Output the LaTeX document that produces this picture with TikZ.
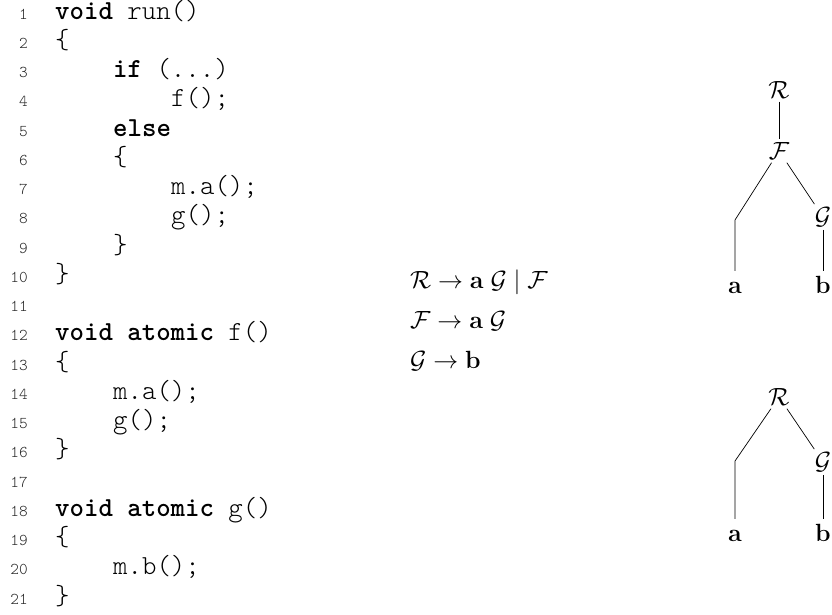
\documentclass[tikz,border=0pt]{standalone}
\tikzset{
  codeline/.style={anchor=mid west, inner sep=0pt, font=\fontsize{27.5}{30}\ttfamily\fontseries{l}\selectfont},
  lnum/.style={anchor=mid east, inner sep=0pt, text=black!85, font=\fontsize{16.5}{18}\ttfamily\fontseries{l}\selectfont},
  ruletxt/.style={anchor=base west, inner sep=0pt, font=\fontsize{30}{34}\selectfont},
  tn/.style={inner sep=3pt, font=\fontsize{28.5}{34}\selectfont},
  leaf/.style={inner sep=3pt, anchor=base, text height=19pt, text depth=0pt, font=\fontsize{28.5}{34}\selectfont},
  treeedge/.style={line width=0.7pt}
}
\newcommand{\kw}[1]{{\bfseries #1}}
\begin{document}
\begin{tikzpicture}[x=1pt,y=-1pt]
\useasboundingbox (0,0) rectangle (832,615);
% line numbers
\foreach \i in {1,...,21} {
  \node[lnum] (n\i) at (28,{17+(\i-1)*29.25}) {\i};
}
% code
\def\xa{55}
\def\xb{113}
\def\xc{171}
\node[codeline] (l1) at (\xa,17) {\kw{void} run()};
\node[codeline] (l2) at (\xa,46.25) {\{};
\node[codeline] (l3) at (\xb,75.5) {\kw{if} (...)};
\node[codeline] (l4) at (\xc,104.75) {f();};
\node[codeline] (l5) at (\xb,134) {\kw{else}};
\node[codeline] (l6) at (\xb,163.25) {\{};
\node[codeline] (l7) at (\xc,192.5) {m.a();};
\node[codeline] (l8) at (\xc,221.75) {g();};
\node[codeline] (l9) at (\xb,251) {\}};
\node[codeline] (l10) at (\xa,280.25) {\}};
\node[codeline] (l12) at (\xa,338.75) {\kw{void} \kw{atomic} f()};
\node[codeline] (l13) at (\xa,368) {\{};
\node[codeline] (l14) at (\xb,397.25) {m.a();};
\node[codeline] (l15) at (\xb,426.5) {g();};
\node[codeline] (l16) at (\xa,455.75) {\}};
\node[codeline] (l18) at (\xa,514.25) {\kw{void} \kw{atomic} g()};
\node[codeline] (l19) at (\xa,543.5) {\{};
\node[codeline] (l20) at (\xb,572.75) {m.b();};
\node[codeline] (l21) at (\xa,602) {\}};
% grammar rules
\node[ruletxt] (r1) at (410,288) {$\mathcal{R}\to\mathbf{a}\;\mathcal{G}\mid\mathcal{F}$};
\node[ruletxt] (r2) at (410,328) {$\mathcal{F}\to\mathbf{a}\;\mathcal{G}$};
\node[ruletxt] (r3) at (410,368) {$\mathcal{G}\to\mathbf{b}$};
% top tree
\node[tn] (tR) at (779,90) {$\mathcal{R}$};
\node[tn] (tF) at (779,151) {$\mathcal{F}$};
\coordinate (tE) at (735,220);
\node[tn] (tG) at (823,217) {$\mathcal{G}$};
\node[leaf] (ta) at (735,293) {$\mathbf{a}$};
\node[leaf] (tb) at (823,293) {$\mathbf{b}$};
\draw[treeedge] (tR) -- (tF);
\draw[treeedge] (tF) -- (tE) -- (ta.north);
\draw[treeedge] (tF) -- (tG);
\draw[treeedge] (tG) -- (tb.north);
% bottom tree
\node[tn] (bR) at (779,397) {$\mathcal{R}$};
\coordinate (bE) at (735,461);
\node[tn] (bG) at (823,462) {$\mathcal{G}$};
\node[leaf] (ba) at (735,541) {$\mathbf{a}$};
\node[leaf] (bb) at (823,541) {$\mathbf{b}$};
\draw[treeedge] (bR) -- (bE) -- (ba.north);
\draw[treeedge] (bR) -- (bG);
\draw[treeedge] (bG) -- (bb.north);
\end{tikzpicture}
\end{document}
